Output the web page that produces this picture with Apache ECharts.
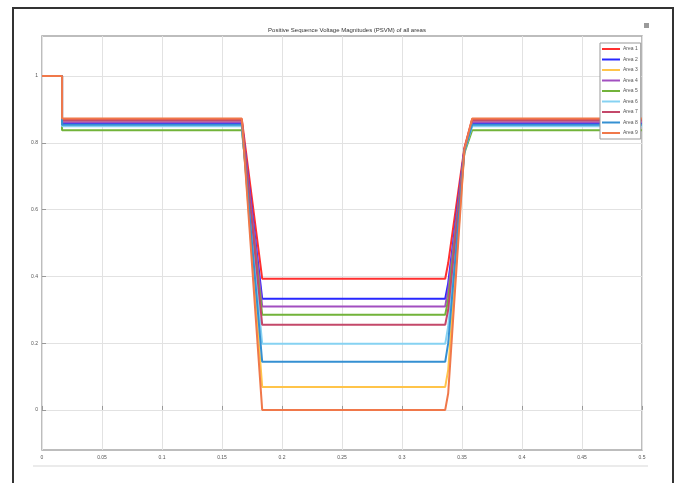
<!DOCTYPE html>
<html><head><meta charset="utf-8">
<script src="https://cdn.jsdelivr.net/npm/echarts@6/dist/echarts.min.js"></script>
<style>html,body{margin:0;padding:0;background:#fff}#c{width:675px;height:483px}</style>
</head><body><div id="c"></div>
<script>
var areas = ['Area 1','Area 2','Area 3','Area 4','Area 5','Area 6','Area 7','Area 8','Area 9'];
var colors = ['#ff2f2f','#2828ff','#ffc44a','#a24fc0','#72b33a','#86d2f2','#c4486a','#3590d2','#f0784a'];
var times = [0, 0.0167, 0.0167, 0.1665, 0.1835, 0.336, 0.3385, 0.352, 0.3585, 0.5];
var area1 = [1, 1, 0.871, 0.871, 0.393, 0.393, 0.440, 0.785, 0.871, 0.871];
var area2 = [1, 1, 0.858, 0.858, 0.333, 0.333, 0.380, 0.780, 0.858, 0.858];
var area3 = [1, 1, 0.866, 0.866, 0.069, 0.069, 0.120, 0.775, 0.866, 0.866];
var area4 = [1, 1, 0.862, 0.862, 0.310, 0.310, 0.360, 0.780, 0.862, 0.862];
var area5 = [1, 1, 0.838, 0.838, 0.285, 0.285, 0.330, 0.770, 0.838, 0.838];
var area6 = [1, 1, 0.850, 0.850, 0.198, 0.198, 0.250, 0.775, 0.850, 0.850];
var area7 = [1, 1, 0.868, 0.868, 0.255, 0.255, 0.300, 0.780, 0.868, 0.868];
var area8 = [1, 1, 0.854, 0.854, 0.144, 0.144, 0.200, 0.775, 0.854, 0.854];
var area9 = [1, 1, 0.873, 0.873, 0.000, 0.000, 0.050, 0.780, 0.873, 0.873];
var values = [area1, area2, area3, area4, area5, area6, area7, area8, area9];
var yTicks = [0, 0.2, 0.4, 0.6, 0.8, 1];
var xMin = 0, xMax = 0.5, xStep = 0.05, yMin = -0.12, yMax = 1.12;
var title = 'Positive Sequence Voltage Magnitudes (PSVM) of all areas';

var font = 'Liberation Sans';
var series = [{
  type: 'line', data: [], silent: true, z: 0, zlevel: 0,
  markLine: {silent: true, symbol: 'none', label: {show: false}, z: 0,
    lineStyle: {color: '#e2e2e2', width: 1, type: 'solid'},
    data: yTicks.map(function(v){ return {yAxis: v}; })}
}];
areas.forEach(function(name, i){
  series.push({
    name: name, type: 'line', showSymbol: false, animation: false,
    lineStyle: {color: colors[i], width: 2}, itemStyle: {color: colors[i]},
    data: times.map(function(t, k){ return [t, values[i][k]]; }),
    z: 3 + i
  });
});

var chart = echarts.init(document.getElementById('c'), null, {renderer: 'canvas'});
chart.setOption({
  animation: false,
  backgroundColor: '#fff',
  title: {text: title, left: 342, top: 22, textAlign: 'center',
    textStyle: {fontFamily: font, fontSize: 6, fontWeight: 'normal', color: '#333'}},
  grid: {left: 42, top: 36, right: 33, bottom: 33, show: true, backgroundColor: '#fff',
    borderColor: '#a8a8a8', borderWidth: 1.5},
  legend: {data: areas, orient: 'vertical', left: 600, top: 43, icon: 'rect',
    itemWidth: 18, itemHeight: 2, itemGap: 4.5, padding: [3, 3, 3, 2],
    backgroundColor: '#fff', borderColor: '#999', borderWidth: 1, z: 20,
    textStyle: {fontFamily: font, fontSize: 5, color: '#555', lineHeight: 6, padding: [0,0,0,-2]}},
  xAxis: {type: 'value', min: xMin, max: xMax, interval: xStep,
    axisLine: {show: false}, axisTick: {inside: true, length: 4, lineStyle: {color: '#999'}},
    axisLabel: {fontFamily: font, fontSize: 5, color: '#555', margin: 5,
      formatter: function(v){ return String(+v.toFixed(2)); }},
    splitLine: {show: true, lineStyle: {color: '#e2e2e2', width: 1}}},
  yAxis: {type: 'value', min: yMin, max: yMax,
    axisLine: {show: false},
    axisTick: {inside: true, length: 4, customValues: yTicks, lineStyle: {color: '#999'}},
    axisLabel: {fontFamily: font, fontSize: 5, color: '#555', margin: 4, customValues: yTicks,
      formatter: function(v){ return String(+v.toFixed(2)); }},
    splitLine: {show: false}},
  graphic: [
    {type: 'rect', shape: {x: 13, y: 8, width: 660, height: 500}, style: {fill: null, stroke: '#333', lineWidth: 2}, z: 100, silent: true},
    {type: 'line', shape: {x1: 33, y1: 466, x2: 648, y2: 466}, style: {stroke: '#e4e4e4', lineWidth: 1.5}, silent: true},
    {type: 'rect', shape: {x: 644, y: 23, width: 5, height: 5}, style: {fill: '#9a9a9a'}, silent: true}
  ],
  series: series
});
</script></body></html>
